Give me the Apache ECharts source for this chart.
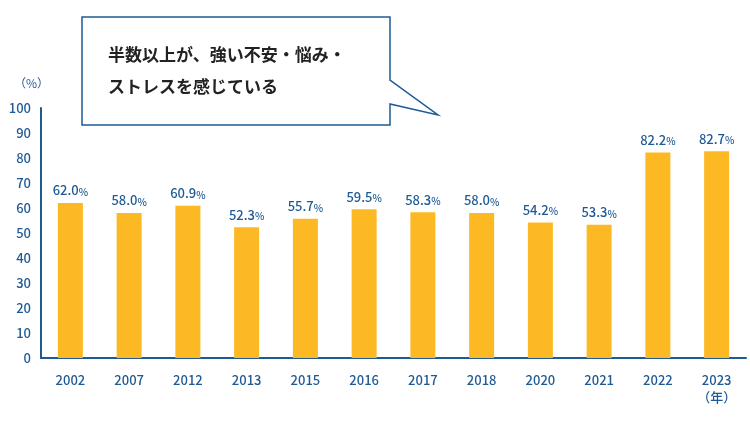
<!DOCTYPE html>
<html><head><meta charset="utf-8">
<script src="https://cdn.jsdelivr.net/npm/echarts@6/dist/echarts.min.js"></script>
<style>html,body{margin:0;padding:0;background:#fff}#c{width:750px;height:423px}</style>
</head><body><div id="c"></div>
<script>
const categories=['2002','2007','2012','2013','2015','2016','2017','2018','2020','2021','2022','2023'];
const values=[62.0,58.0,60.9,52.3,55.7,59.5,58.3,58.0,54.2,53.3,82.2,82.7];
const yTicks=[0,10,20,30,40,50,60,70,80,90,100];
const blue='#1f5a96';
const chart=echarts.init(document.getElementById('c'));
chart.setOption({
  animation:false,
  textStyle:{fontFamily:'Noto Sans CJK JP'},
  grid:{left:41,top:108,width:705,height:250},
  xAxis:{type:'category',data:categories,
    axisLine:{lineStyle:{color:blue,width:2}},axisTick:{show:false},
    axisLabel:{color:blue,fontSize:13,fontWeight:500,margin:14,
      formatter:(v)=>v==='2023'?'2023\n（年）':v,lineHeight:17}},
  yAxis:{type:'value',min:0,max:100,interval:10,
    axisLine:{show:true,lineStyle:{color:blue,width:2}},axisTick:{show:false},splitLine:{show:false},
    axisLabel:{color:blue,fontSize:13,fontWeight:500,margin:10,formatter:(v)=>yTicks.includes(v)?String(v):''}},
  series:[{type:'bar',data:values,barWidth:25,itemStyle:{color:'#fdb924'},
    label:{show:true,position:'top',distance:6,
      formatter:(p)=>'{a|'+p.value.toFixed(1)+'}{b|%}',
      rich:{a:{color:blue,fontSize:13,fontWeight:500},b:{color:blue,fontSize:10,fontWeight:500,padding:[3,0,0,0]}}}}],
  graphic:[
    {type:'text',left:14,top:77,style:{text:'（%）',fill:blue,fontSize:12,fontFamily:'Noto Sans CJK JP'}},
    {type:'polygon',shape:{points:[[82,17],[390,17],[390,80],[438,115],[390,104],[390,125],[82,125]]},
      style:{fill:'#fff',stroke:blue,lineWidth:1.5}},
    {type:'text',left:108,top:39,style:{text:'半数以上が、強い不安・悩み・\nストレスを感じている',fill:'#222',
      fontSize:17,fontWeight:'bold',lineHeight:32,fontFamily:'Noto Sans CJK JP'}}
  ]
});
</script></body></html>
